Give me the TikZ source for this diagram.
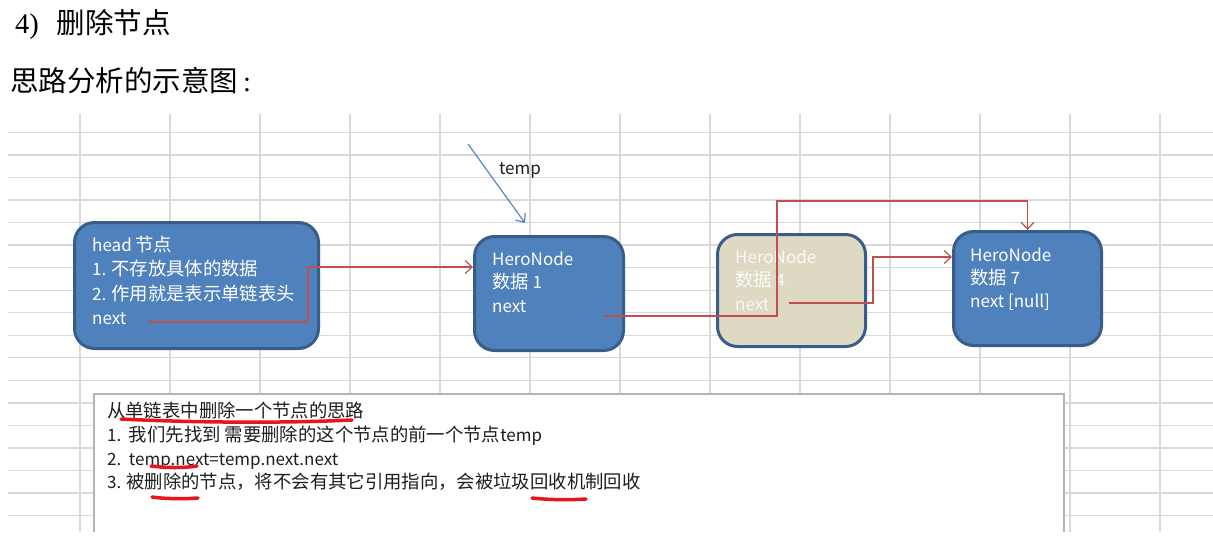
\documentclass[tikz,border=0pt]{standalone}
\usepackage{fontspec}
\setmainfont{Liberation Serif}
\newfontfamily\cjk{Noto Sans CJK SC}
\newfontfamily\zhfont{Noto Sans CJK SC}[Scale=1.08]
\newcommand\zh[1]{{\zhfont #1}}
\usetikzlibrary{arrows.meta,calc}
\definecolor{nodeblue}{HTML}{4F81BD}
\definecolor{nodeborder}{HTML}{385D8A}
\definecolor{deltan}{HTML}{DDD9C3}
\definecolor{conred}{HTML}{C0504D}
\definecolor{gridgray}{HTML}{D9D9D9}
\definecolor{ulred}{HTML}{E8161B}
\definecolor{tempblue}{HTML}{5D86BE}
\definecolor{boxgray}{HTML}{B4B4B4}
\definecolor{txtdark}{HTML}{1E1E1E}
\tikzset{
  gridline/.style={gridgray, line width=1.3pt},
  heronode/.style={draw=nodeborder, line width=3pt, fill=nodeblue, rounded corners=20pt, inner sep=0pt},
  delnode/.style={heronode, fill=deltan},
  nodetext/.style={anchor=north west, inner sep=0pt, align=left, text=white, font=\cjk\fontsize{17}{23.5}\selectfont},
  redline/.style={conred, line width=1.2pt},
  redarrow/.style={redline, -{Straight Barb[length=7pt,width=13pt]}},
  temparrow/.style={tempblue, line width=1.2pt, -{Straight Barb[length=7pt,width=12pt]}},
  uline/.style={ulred, line width=3.5pt, line cap=round},
  titletext/.style={anchor=base west, inner sep=0pt, font=\fontsize{28.5}{34}\selectfont}
}
\begin{document}
\begin{tikzpicture}[x=1pt,y=-1pt]
\useasboundingbox (0,0) rectangle (1213,550);
\fill[white] (0,0) rectangle (1213,550);
% title
\node[titletext] (t1) at (15,33) {4)\hspace{18pt}{\cjk 删除节点}};
\node[titletext] (t2) at (10,91) {{\cjk 思路分析的示意图}\hspace{5pt}:};
% grid
\foreach \k in {0,...,12} \draw[gridline] ({80+90*\k},114) -- ({80+90*\k},532);
\foreach \k in {0,...,17} \draw[gridline] (8,{132.3+22.55*\k}) -- (1213,{132.3+22.55*\k});
% nodes
\node[heronode, minimum width=244pt, minimum height=126pt] (head) at (196.5,285.5) {};
\node[heronode, minimum width=149pt, minimum height=114pt] (n1) at (549,293.5) {};
\node[delnode, minimum width=148pt, minimum height=112pt] (n4) at (791.5,290.5) {};
\node[heronode, minimum width=148pt, minimum height=114pt] (n7) at (1027.5,288.5) {};
\node[nodetext, font=\cjk\fontsize{17}{24.3}\selectfont] (headtxt) at (92,236) {head \zh{节点}\\1. \zh{不存放具体的数据}\\2. \zh{作用就是表示单链表头}\\next};
\node[nodetext] (n1txt) at (492,251.5) {HeroNode\\\zh{数据} 1\\next};
\node[nodetext, text=white!85!deltan] (n4txt) at (735,249.5) {HeroNode\\\zh{数据} 4\\next};
\node[nodetext, font=\cjk\fontsize{17}{23}\selectfont] (n7txt) at (970,247.5) {HeroNode\\\zh{数据} 7\\next [null]};
% connectors
\coordinate (hnext) at (148,322);
\coordinate (n1next) at (603,316);
\coordinate (n4next) at (789,303);
\draw[redarrow] (hnext) -- (308,322) -- (308,267) -- (n1.west |- 0,267);
\draw[redarrow] (n1next) -- (777,316) -- (777,201) -- (n7.north |- 0,201) -- (n7.north);
\draw[redarrow] (n4next) -- (873,303) -- (873,257) -- (n7.west |- 0,257);
\coordinate (tempstart) at (468,144);
\coordinate (tempend) at (525,223);
\draw[temparrow] (tempstart) -- (tempend);
\node[anchor=center, inner sep=0pt, font=\cjk\fontsize{17}{20}\selectfont, text=txtdark] (templbl) at (520,171) {temp};
% text box
\fill[white] (94,394) rectangle (1064,532);
\draw[boxgray, line width=1.5pt] (94,532) -- (94,394) -- (1064,394) -- (1064,532);
\node[nodetext, text=txtdark, font=\cjk\fontsize{17}{23.7}\selectfont] (desc) at (107,402) {\zh{从单链表中删除一个节点的思路}\\1.\ \ \zh{我们先找到 需要删除的这个节点的前一个节点}temp\\2.\ \ temp.next=temp.next.next\\3. \zh{被删除的节点，将不会有其它引用指向，会被垃圾回收机制回收}};
% red underlines
\draw[uline] (121,419) .. controls (200,423) and (290,423) .. (352,420);
\draw[uline] (151,466) .. controls (165,468) and (185,468) .. (197,466);
\draw[uline] (152,497) .. controls (165,499) and (185,499) .. (198,498);
\draw[uline] (532,498) .. controls (550,500) and (570,500) .. (586,499);
\end{tikzpicture}
\end{document}
